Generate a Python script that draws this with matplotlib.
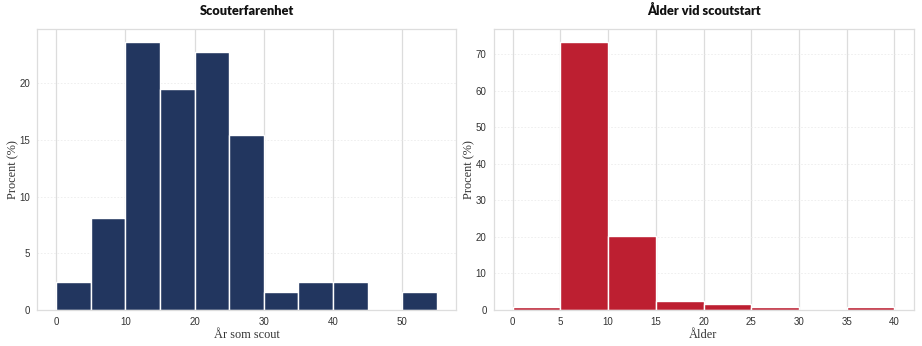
import matplotlib
matplotlib.use("Agg")
import matplotlib.pyplot as plt
import numpy as np

plt.rcParams["font.family"] = ["Liberation Sans", "DejaVu Sans"]

# Data (percent per 5-year bin)
exp_edges = [0, 5, 10, 15, 20, 25, 30, 35, 40, 45, 50, 55]
exp_pct = [2.44, 8.13, 23.58, 19.51, 22.76, 15.45, 1.63, 2.44, 2.44, 0.0, 1.63]
age_edges = [0, 5, 10, 15, 20, 25, 30, 35, 40]
age_pct = [0.81, 73.17, 20.33, 2.44, 1.63, 0.81, 0.0, 0.81]

exp_xticks = [0, 10, 20, 30, 40, 50]
exp_yticks = [0, 5, 10, 15, 20]
age_xticks = [0, 5, 10, 15, 20, 25, 30, 35, 40]
age_yticks = [0, 10, 20, 30, 40, 50, 60, 70]

fig = plt.figure(figsize=(9.22, 3.46), dpi=100)
ax1 = fig.add_axes([37/922, 1-310/346, (456-37)/922, (310-29)/346])
ax2 = fig.add_axes([493.5/922, 1-310/346, (913.5-493.5)/922, (310-29)/346])

def style(ax, edges, pct, color, title, xlabel, xticks, yticks, ylpad):
    ax.set_axisbelow(True)
    ax.hist(edges[:-1], bins=edges, weights=pct, color=color,
            edgecolor="white", linewidth=1.0)
    ax.set_xticks(xticks)
    ax.set_yticks(yticks)
    ax.grid(axis="x", color="#dcdcdc", linewidth=0.9, linestyle="-")
    ax.grid(axis="y", color="#ececec", linewidth=0.6, linestyle=(0, (2, 2)))
    for s in ax.spines.values():
        s.set_color("#dddddd")
        s.set_linewidth(0.9)
    ax.tick_params(axis="both", length=0, labelsize=7, colors="#333333", pad=5)
    ax.set_title(title, fontsize=9.2, fontweight="heavy", family="Lato", pad=10, color="#111111")
    ax.set_xlabel(xlabel, fontsize=8.8, family="Liberation Serif", color="#333333", labelpad=1.5)
    ax.set_ylabel("Procent (%)", fontsize=8.8, family="Liberation Serif", color="#333333", labelpad=ylpad)

style(ax1, exp_edges, exp_pct, "#22365f", "Scouterfarenhet", "År som scout", exp_xticks, exp_yticks, 0)
style(ax2, age_edges, age_pct, "#bd1f31", "Ålder vid scoutstart", "Ålder", age_xticks, age_yticks, 0)

fig.savefig("out.png", dpi=100, facecolor="white")
